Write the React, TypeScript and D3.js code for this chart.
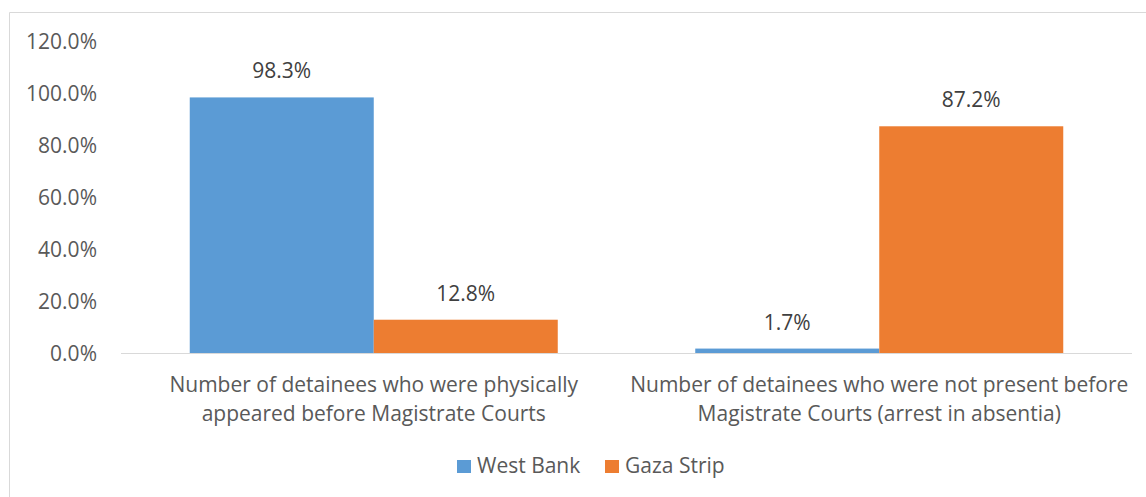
import React from "react";
import * as d3 from "d3";

const categories = [
  ["Number of detainees who were physically", "appeared before Magistrate Courts"],
  ["Number of detainees who were not present before", "Magistrate Courts (arrest in absentia)"],
];
const seriesNames = ["West Bank", "Gaza Strip"];
const westBank = [98.3, 1.7];
const gazaStrip = [12.8, 87.2];
const yTicks = [0, 20, 40, 60, 80, 100, 120];
const colors = ["#5B9BD5", "#ED7D31"];

const W = 1146;
const H = 497;
const FONT = "'Open Sans', 'Liberation Sans', sans-serif";
const TXT = "#595959";
const FS = 21;

export default function App() {
  const y = d3.scaleLinear().domain([0, 120]).range([353, 41]);
  const x0 = d3
    .scaleBand<number>()
    .domain([0, 1])
    .range([121, 1132])
    .paddingInner(0.272)
    .paddingOuter(0.136);
  const x1 = d3.scaleBand<number>().domain([0, 1]).range([0, x0.bandwidth()]);
  const seriesVals = [westBank, gazaStrip];
  const step = x0.step();

  return (
    <svg
      width={W}
      height={H}
      style={{ position: "absolute", left: 0, top: 0, background: "#fff" }}
      fontFamily={FONT}
    >
      <rect x={0} y={0} width={W} height={H} fill="#fff" />
      <path d={`M9.5,${H} V12.5 H${W}`} fill="none" stroke="#D9D9D9" strokeWidth={1} />
      {yTicks.map((t) => (
        <text
          key={t}
          x={97}
          y={y(t)}
          dy="0.36em"
          textAnchor="end"
          fontSize={FS}
          fill={TXT}
        >
          {t.toFixed(1)}%
        </text>
      ))}
      {categories.map((_, ci) =>
        seriesVals.map((vals, si) => {
          const bx = (x0(ci) as number) + (x1(si) as number);
          const v = vals[ci];
          return (
            <g key={`${ci}-${si}`}>
              <rect
                x={bx}
                y={y(v)}
                width={x1.bandwidth()}
                height={y(0) - y(v)}
                fill={colors[si]}
              />
              <text
                x={bx + x1.bandwidth() / 2}
                y={y(v) - 19}
                textAnchor="middle"
                fontSize={FS}
                fill="#404040"
              >
                {v.toFixed(1)}%
              </text>
            </g>
          );
        })
      )}
      <line x1={121} x2={1132} y1={353.5} y2={353.5} stroke="#D9D9D9" strokeWidth={1} />
      {categories.map((lines, ci) => {
        const cx = 121 + step * ci + step / 2;
        return (
          <text key={ci} textAnchor="middle" fontSize={FS} fill={TXT}>
            {lines.map((l, li) => (
              <tspan key={li} x={cx} y={392 + li * 29}>
                {l}
              </tspan>
            ))}
          </text>
        );
      })}
      <g>
        {seriesNames.map((n, i) => {
          const lx = i === 0 ? 457 : 605;
          return (
            <g key={n}>
              <rect x={lx} y={460} width={14} height={13} fill={colors[i]} />
              <text x={lx + 20} y={473} fontSize={FS} fill={TXT}>
                {n}
              </text>
            </g>
          );
        })}
      </g>
    </svg>
  );
}
